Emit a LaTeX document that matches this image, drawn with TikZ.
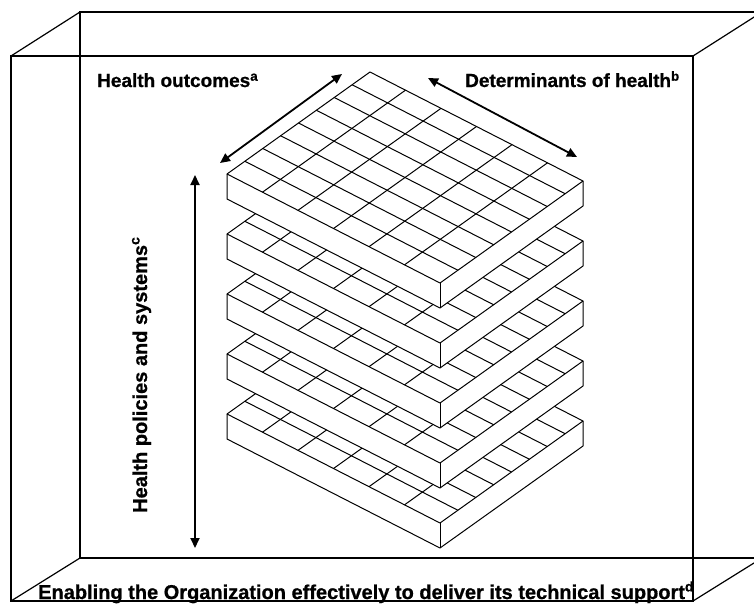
\documentclass[tikz,border=0pt]{standalone}
\usepackage{fontspec}
\setmainfont{Liberation Sans}
\newfontfamily\labelfont[FakeBold=0.8]{Liberation Sans Bold}
\usetikzlibrary{arrows.meta, positioning}

\tikzset{
  boxline/.style={line width=1.2pt, black},
  slabline/.style={line width=1pt, black, line join=round},
  axisarrow/.style={line width=1.8pt, {Triangle[length=10pt,width=9pt]}-{Triangle[length=10pt,width=9pt]}},
  dimlabel/.style={font=\labelfont\fontsize{19}{22}\selectfont, inner sep=0pt},
  widelabel/.style={dimlabel, font=\labelfont\fontsize{20}{23}\selectfont},
}

\begin{document}
\begin{tikzpicture}[x=1pt, y=-1pt]
    \useasboundingbox (0,0) rectangle (754,605);
    \clip (0,0) rectangle (754,605);
    % open box around everything
    \draw[boxline] (80,12) rectangle (762,558);
    \draw[boxline] (11,56) rectangle (693,601);
    \draw[boxline] (11,56) -- (80,12);
    \draw[boxline] (693,56) -- (762,12);
    \draw[boxline] (11,601) -- (80,558);
    \draw[boxline] (693,601) -- (762,558);
    % stack of slabs, bottom one first
    \foreach \k in {4,3,2,1,0} {
        \begin{scope}[shift={(227,174+60*\k)}]
            \fill[white] (0,0) -- (143,-102) -- (356,7) -- (356,32) -- (213,134) -- (0,25) -- cycle;
            \draw[slabline] (0,0) -- (0,25) -- (213,134) -- (356,32) -- (356,7);
            \draw[slabline] (213,109) -- (213,134);
            \draw[slabline] (0,0) -- (143,-102) -- (356,7) -- (213,109) -- cycle;
            \foreach \i in {1,...,5}
                \draw[slabline] ({213*\i/6},{109*\i/6}) -- ++(143,-102);
            \foreach \j in {1,...,7}
                \draw[slabline] ({143*\j/8},{-102*\j/8}) -- ++(213,109);
        \end{scope}
    }
    % the three axes
    \coordinate (outA) at (220,163);
    \coordinate (outB) at (342,74);
    \coordinate (detA) at (428,78);
    \coordinate (detB) at (577,157);
    \coordinate (polA) at (195,175);
    \coordinate (polB) at (195,548);
    \draw[axisarrow] (outA) -- (outB);
    \draw[axisarrow] (detA) -- (detB);
    \draw[axisarrow] (polA) -- (polB);
    \node[dimlabel, anchor=base west] (outcomes) at (97,87) {Health outcomes\textsuperscript{a}};
    \node[dimlabel, anchor=base west] (determinants) at (465,87) {Determinants of health\textsuperscript{b}};
    \node[widelabel, anchor=base west, rotate=90] (policies) at (147,513) {Health policies and systems\textsuperscript{c}};
    \node[widelabel, anchor=base west] (enabling) at (38,599) {Enabling the Organization effectively to deliver its technical support\textsuperscript{d}};
\end{tikzpicture}
\end{document}
